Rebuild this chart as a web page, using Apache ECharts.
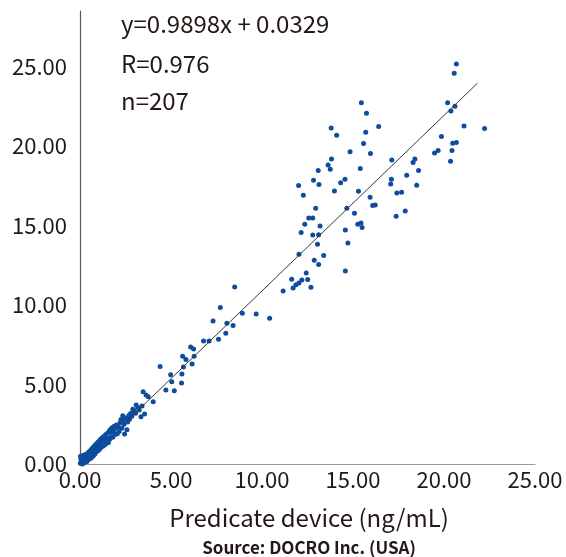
<!DOCTYPE html>
<html><head><meta charset="utf-8">
<script src="https://cdn.jsdelivr.net/npm/echarts@6/dist/echarts.min.js"></script>
<style>html,body{margin:0;padding:0;background:#fff}#c{width:566px;height:557px}</style>
</head><body><div id="c"></div>
<script>
// Predicate device values (x) and test device values (y)
const predicate = [
20.68,20.56,15.46,20.20,15.74,20.38,20.60,16.41,13.80,14.10,15.70,21.10,22.23,15.58,19.86,20.48,20.68,14.84,15.96,13.82,
17.13,19.48,19.68,20.44,20.36,18.40,18.30,13.63,13.75,15.40,13.09,18.60,17.95,12.83,14.56,14.32,17.11,17.07,12.01,13.13,
18.50,13.98,15.30,17.41,17.67,12.27,15.94,16.08,16.22,12.95,14.66,15.08,17.37,17.87,12.57,12.79,12.35,15.26,15.44,15.50,
13.19,14.58,12.15,12.79,13.11,13.05,14.72,12.03,13.39,12.87,13.11,14.58,12.43,11.63,12.19,12.51,12.03,11.87,11.71,12.69,
11.16,8.50,7.71,8.92,9.68,10.42,7.31,8.07,8.41,8.01,6.79,7.09,7.61,6.08,6.24,6.27,5.64,5.82,6.16,5.68,
4.40,4.98,5.60,5.04,5.58,4.72,5.18,3.47,3.63,3.75,4.02,3.41,3.09,3.55,3.35,2.95,2.99,
0.02,0.05,0.03,0.08,0.10,0.12,0.15,0.18,0.20,0.22,0.25,0.28,0.30,0.33,0.35,0.38,0.40,0.43,0.46,0.48,
0.52,0.55,0.58,0.60,0.63,0.66,0.68,0.70,0.73,0.75,0.78,0.80,0.83,0.86,0.88,0.91,0.94,0.97,
1.00,1.03,1.05,1.08,1.10,1.13,1.16,1.19,1.22,1.25,1.28,1.32,1.35,1.38,1.42,1.46,
1.50,1.53,1.56,1.60,1.63,1.66,1.70,1.73,1.76,1.80,1.84,1.88,1.92,1.96,
2.00,2.05,2.10,2.15,2.20,2.25,2.30,2.35,2.38,2.42,2.45,2.52,2.58,2.62,
2.68,2.72,2.78,2.85,2.90,3.05,3.18,3.25
];
const testDevice = [
25.17,24.59,22.73,22.73,22.06,22.21,22.50,21.23,21.14,20.69,20.87,21.27,21.10,20.16,20.60,20.18,20.22,19.64,19.53,19.19,
19.13,19.57,19.73,19.73,19.04,19.19,18.97,18.81,18.55,18.59,18.46,18.46,18.17,17.85,17.92,17.70,17.92,17.61,17.52,17.58,
17.54,17.18,17.16,17.05,17.09,16.91,16.78,16.26,16.29,16.09,16.09,15.77,15.59,15.91,15.48,15.48,15.08,15.08,15.17,14.88,
14.97,14.72,14.56,14.41,14.43,13.83,13.91,13.20,13.11,12.82,12.55,12.15,12.01,11.63,11.57,11.61,11.39,11.28,11.07,11.12,
10.89,11.14,9.84,9.49,9.44,9.17,8.99,8.86,8.72,8.23,7.74,7.74,7.85,7.36,7.23,6.78,6.78,6.58,6.29,6.11,
6.13,5.62,5.66,5.17,5.10,4.65,4.61,4.54,4.34,4.23,3.91,3.65,3.71,3.15,2.98,3.38,3.27,
0.05,0.30,0.48,0.15,0.38,0.00,0.22,0.55,0.05,0.35,0.12,0.48,0.25,0.62,0.32,0.15,0.65,0.42,0.28,0.75,
0.40,0.80,0.35,0.88,0.52,0.98,0.45,0.75,1.05,0.55,0.85,1.15,0.65,1.00,1.25,0.78,1.10,1.35,
0.85,1.15,1.45,0.95,1.28,1.55,1.05,1.38,1.65,1.12,1.48,1.75,1.20,1.58,1.85,1.30,
1.62,1.95,1.35,2.05,1.55,2.15,1.70,2.00,2.28,1.68,2.10,2.38,1.85,2.25,
2.45,1.90,2.35,2.05,2.60,2.80,2.25,3.04,2.75,2.50,1.88,2.90,2.15,2.65,
3.05,2.82,3.18,3.00,3.45,3.20,3.55,3.40
];
// Trend line endpoints as drawn in the reference
const trendX = [2.67, 21.84];
const trendY = [2.80, 23.96];
const annotations = ['y=0.9898x + 0.0329', 'R=0.976', 'n=207'];
const xTitle = 'Predicate device (ng/mL)';
const sourceText = 'Source: DOCRO Inc. (USA)';

const FONT = '"Noto Sans CJK JP", "Noto Sans", sans-serif';
const TXT = '#231815';
const chart = echarts.init(document.getElementById('c'), null, {renderer: 'canvas'});
chart.setOption({
  backgroundColor: '#fff',
  animation: false,
  grid: {left: 80, right: 31, top: 11, bottom: 93, containLabel: false},
  xAxis: {
    type: 'value', min: 0, max: 25, interval: 5,
    axisLine: {show: true, lineStyle: {color: '#9a9a9a', width: 1.2}},
    axisTick: {show: false},
    splitLine: {show: false},
    axisLabel: {fontSize: 22, color: TXT, fontFamily: FONT, margin: 5,
      formatter: v => v.toFixed(2)}
  },
  yAxis: {
    type: 'value', min: 0, max: 28.5, interval: 5,
    axisLine: {show: true, lineStyle: {color: '#5a5757', width: 1.2}},
    axisTick: {show: false},
    splitLine: {show: false},
    axisLabel: {fontSize: 22, color: TXT, fontFamily: FONT, margin: 13,
      formatter: v => (Math.abs(v % 5) < 1e-9 ? v.toFixed(2) : '')}
  },
  series: [
    {
      type: 'line',
      data: trendX.map((x, i) => [x, trendY[i]]),
      symbol: 'none',
      lineStyle: {color: '#3a3636', width: 1},
      z: 3
    },
    {
      type: 'scatter',
      data: predicate.map((x, i) => [x, testDevice[i]]),
      symbolSize: 5,
      itemStyle: {color: '#0e4d9e', opacity: 1},
      z: 2
    }
  ],
  graphic: [
    ...annotations.map((t, i) => ({
      type: 'text', left: 121, top: [12, 52, 89][i],
      style: {text: t, font: '24px ' + FONT, fill: TXT}
    })),
    {type: 'text', x: 309, y: 518,
      style: {text: xTitle, font: '24px ' + FONT, fill: TXT, align: 'center', verticalAlign: 'middle'}},
    {type: 'text', x: 309, y: 548,
      style: {text: sourceText, font: 'bold 17px ' + FONT, fill: TXT, align: 'center', verticalAlign: 'middle'}}
  ]
});
</script></body></html>
